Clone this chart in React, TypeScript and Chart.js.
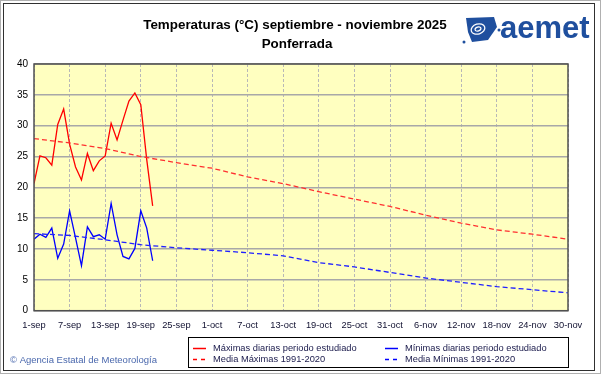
import React, { useEffect, useRef } from 'react';
import { Chart, registerables } from 'chart.js';

Chart.register(...registerables);

// ---- Data ----
const TICK_DAYS = [0, 6, 12, 18, 24, 30, 36, 42, 48, 54, 60, 66, 72, 78, 84, 90];
const TICK_LABELS = ['1-sep', '7-sep', '13-sep', '19-sep', '25-sep', '1-oct', '7-oct', '13-oct', '19-oct', '25-oct', '31-oct', '6-nov', '12-nov', '18-nov', '24-nov', '30-nov'];

// Daily values from 1-sep (day 0) onwards
const MAX_DAILY = [20.6, 25.1, 24.8, 23.6, 30.2, 32.7, 27.0, 23.3, 21.2, 25.5, 22.7, 24.3, 25.1, 30.4, 27.7, 30.9, 34.0, 35.3, 33.4, 24.5, 17.0];
const MIN_DAILY = [11.6, 12.4, 11.9, 13.4, 8.5, 10.8, 16.2, 11.8, 7.3, 13.6, 12.0, 12.3, 11.6, 17.4, 12.3, 8.8, 8.4, 10.1, 16.2, 13.4, 8.1];

// Climatological normals 1991-2020, read at the tick days
const NORMAL_MAX = [27.9, 27.2, 26.3, 25.0, 24.0, 23.1, 21.7, 20.6, 19.3, 18.1, 16.9, 15.5, 14.2, 13.1, 12.4, 11.6];
const NORMAL_MIN = [12.5, 12.2, 11.5, 10.7, 10.2, 9.8, 9.4, 8.9, 7.8, 7.1, 6.2, 5.3, 4.6, 3.9, 3.4, 2.9];

const TITLE = 'Temperaturas (°C) septiembre - noviembre 2025';
const SUBTITLE = 'Ponferrada';
const LEGEND_ITEMS = [
  { label: 'Máximas diarias periodo estudiado', color: '#ff0000', dash: false },
  { label: 'Mínimas diarias periodo estudiado', color: '#0000ff', dash: false },
  { label: 'Media Máximas 1991-2020', color: '#ff0000', dash: true },
  { label: 'Media Mínimas 1991-2020', color: '#0000ff', dash: true },
];
const FOOTER = '© Agencia Estatal de Meteorología';

const FONT = '"Liberation Sans", Arial, sans-serif';

const decorPlugin = {
  id: 'decor',
  beforeDraw(chart: any) {
    const { ctx, chartArea: a } = chart;
    ctx.save();
    ctx.fillStyle = '#ffffff';
    ctx.fillRect(0, 0, chart.width, chart.height);
    ctx.fillStyle = '#ffffc0';
    ctx.fillRect(a.left, a.top, a.right - a.left, a.bottom - a.top);
    ctx.restore();
  },
  afterDraw(chart: any) {
    const { ctx, chartArea: a } = chart;
    ctx.save();
    // plot border
    ctx.strokeStyle = '#505050';
    ctx.lineWidth = 1.5;
    ctx.strokeRect(a.left, a.top, a.right - a.left, a.bottom - a.top);

    // title
    ctx.fillStyle = '#000000';
    ctx.textAlign = 'center';
    ctx.textBaseline = 'middle';
    ctx.font = `bold 13.4px ${FONT}`;
    ctx.fillText(TITLE, 295, 25);
    ctx.fillText(SUBTITLE, 297, 44);

    // logo
    const blue = '#1f4f9e';
    ctx.fillStyle = blue;
    ctx.font = `bold 31px ${FONT}`;
    ctx.textAlign = 'left';
    ctx.textBaseline = 'alphabetic';
    ctx.fillText('aemet', 500, 38);
    // icon
    ctx.beginPath();
    ctx.moveTo(466, 18);
    ctx.lineTo(494, 17);
    ctx.lineTo(497, 27);
    ctx.lineTo(488, 40);
    ctx.lineTo(472, 42);
    ctx.lineTo(468, 32);
    ctx.closePath();
    ctx.fill();
    ctx.strokeStyle = '#ffffff';
    ctx.lineWidth = 1.3;
    ctx.beginPath();
    ctx.ellipse(478, 29, 7, 5, -0.3, 0, Math.PI * 2);
    ctx.stroke();
    ctx.beginPath();
    ctx.ellipse(478, 29, 3, 2, -0.3, 0, Math.PI * 2);
    ctx.stroke();
    ctx.fillStyle = blue;
    ctx.beginPath();
    ctx.arc(464, 42, 1.5, 0, Math.PI * 2);
    ctx.fill();
    ctx.beginPath();
    ctx.arc(499, 30, 1.5, 0, Math.PI * 2);
    ctx.fill();

    // legend box
    const lx = 188, ly = 337, lw = 380, lh = 30;
    ctx.strokeStyle = '#000000';
    ctx.lineWidth = 1;
    ctx.strokeRect(lx + 0.5, ly + 0.5, lw, lh);
    ctx.font = `9.3px ${FONT}`;
    ctx.textBaseline = 'middle';
    ctx.textAlign = 'left';
    const cols = [193, 385];
    const rows = [348, 359];
    LEGEND_ITEMS.forEach((it, i) => {
      const cx = cols[i % 2];
      const cy = rows[Math.floor(i / 2)];
      ctx.strokeStyle = it.color;
      ctx.lineWidth = 1.5;
      ctx.setLineDash(it.dash ? [4, 4] : []);
      ctx.beginPath();
      ctx.moveTo(cx, cy + 0.5);
      ctx.lineTo(cx + 13, cy + 0.5);
      ctx.stroke();
      ctx.setLineDash([]);
      ctx.fillStyle = '#202050';
      ctx.fillText(it.label, cx + 20, cy);
    });

    // footer
    ctx.fillStyle = '#4a68ad';
    ctx.font = `9.5px ${FONT}`;
    ctx.fillText(FOOTER, 10, 360);

    // outer frame
    ctx.strokeStyle = '#b0b0b0';
    ctx.lineWidth = 1;
    ctx.strokeRect(0.5, 0.5, chart.width - 1, chart.height - 1);
    ctx.strokeStyle = '#303030';
    ctx.strokeRect(3.5, 3.5, 591, 367);
    ctx.restore();
  },
};

export default function App() {
  const ref = useRef<HTMLCanvasElement | null>(null);
  useEffect(() => {
    if (!ref.current) return;
    const pts = (days: number[], vals: number[]) => vals.map((v, i) => ({ x: days[i], y: v }));
    const dailyDays = MAX_DAILY.map((_, i) => i);
    const chart = new Chart(ref.current, {
      type: 'line',
      data: {
        datasets: [
          { data: pts(TICK_DAYS, NORMAL_MAX), borderColor: '#ff3030', borderWidth: 1.3, borderDash: [5, 3], pointRadius: 0 },
          { data: pts(TICK_DAYS, NORMAL_MIN), borderColor: '#2020ff', borderWidth: 1.3, borderDash: [5, 3], pointRadius: 0 },
          { data: pts(dailyDays, MAX_DAILY), borderColor: '#ff0000', borderWidth: 1.3, pointRadius: 0 },
          { data: pts(dailyDays, MIN_DAILY), borderColor: '#0000ff', borderWidth: 1.3, pointRadius: 0 },
        ],
      },
      options: {
        responsive: false,
        animation: false,
        events: [],
        layout: { padding: { left: 0, top: 64, right: 33, bottom: 43.3 } },
        plugins: { legend: { display: false }, title: { display: false }, tooltip: { enabled: false } },
        scales: {
          x: {
            type: 'linear',
            min: 0,
            max: 90,
            afterFit: (s: any) => { s.height = 20; },
            afterBuildTicks: (s: any) => { s.ticks = TICK_DAYS.map((d) => ({ value: d })); },
            ticks: {
              autoSkip: false,
              maxRotation: 0,
              padding: 9,
              color: '#101030',
              font: { family: FONT, size: 9.3 },
              callback: (v: any) => TICK_LABELS[TICK_DAYS.indexOf(Number(v))] ?? '',
            },
            grid: { color: '#b8b8b8', lineWidth: 1, drawTicks: false },
            border: { display: false, dash: [3, 2] },
          },
          y: {
            min: 0,
            max: 40,
            afterFit: (s: any) => { s.width = 34; },
            ticks: { stepSize: 5, padding: 6, color: '#000000', font: { family: FONT, size: 10 } },
            grid: { color: '#a8a8a8', lineWidth: 1.5, drawTicks: false },
            border: { display: false },
          },
        },
      },
      plugins: [decorPlugin],
    } as any);
    return () => chart.destroy();
  }, []);
  return (
    <div style={{ position: 'fixed', left: 0, top: 0, width: 601, height: 374 }}>
      <canvas ref={ref} width={601} height={374} style={{ display: 'block', width: 601, height: 374 }} />
    </div>
  );
}
